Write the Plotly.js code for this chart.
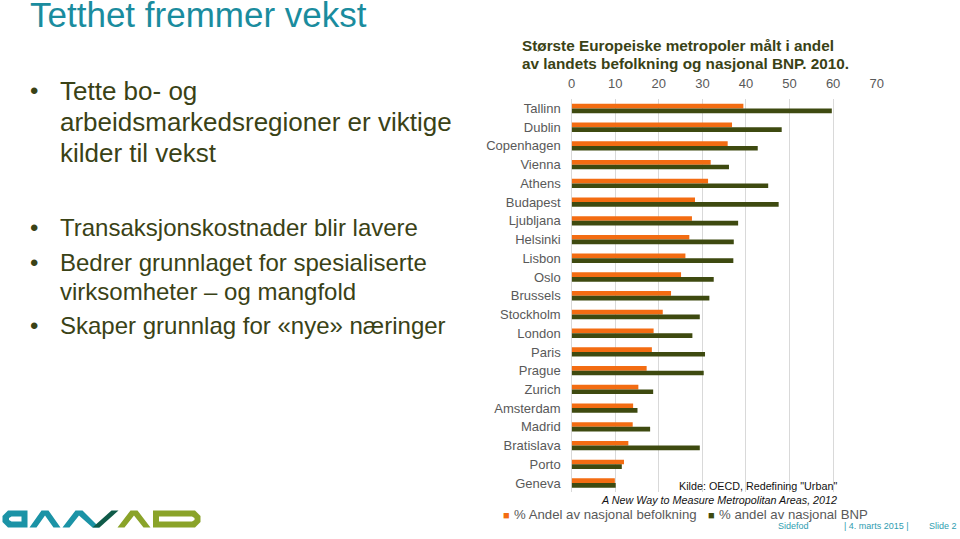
<!DOCTYPE html>
<html>
<head>
<meta charset="utf-8">
<script src="https://cdn.plot.ly/plotly-3.0.1.min.js"></script>
<style>
html,body{margin:0;padding:0;background:#fff;}
#chart{width:960px;height:539px;}
</style>
</head>
<body>
<div id="chart"></div>
<script>
// ---- data ----
const cities = ["Tallinn","Dublin","Copenhagen","Vienna","Athens","Budapest","Ljubljana","Helsinki","Lisbon","Oslo","Brussels","Stockholm","London","Paris","Prague","Zurich","Amsterdam","Madrid","Bratislava","Porto","Geneva"];
const befolkning = [39.4,36.8,35.8,31.9,31.3,28.3,27.6,27.0,26.1,25.1,22.8,20.9,18.8,18.4,17.2,15.3,14.1,14.0,13.0,12.0,9.9];
const bnp = [59.7,48.2,42.7,36.1,45.1,47.5,38.2,37.2,37.1,32.6,31.6,29.4,27.7,30.6,30.3,18.7,15.1,18.0,29.4,11.5,10.1];
const seriesNames = ["% Andel av nasjonal befolkning","% andel av nasjonal BNP"];
const xTicks = [0,10,20,30,40,50,60,70];
const chartTitle = ["Største Europeiske metropoler målt i andel","av landets befolkning og nasjonal BNP. 2010."];
const sourceLines = ["Kilde: OECD, Redefining \"Urban\"","A New Way to Measure Metropolitan Areas, 2012"];
const slideTitle = "Tetthet fremmer vekst";
const bulletLines = [
  {t:"Tette bo- og", b:true, blk:0},
  {t:"arbeidsmarkedsregioner er viktige", b:false, blk:0},
  {t:"kilder til vekst", b:false, blk:0},
  {t:"Transaksjonskostnader blir lavere", b:true, blk:1},
  {t:"Bedrer grunnlaget for spesialiserte", b:true, blk:1},
  {t:"virksomheter – og mangfold", b:false, blk:1},
  {t:"Skaper grunnlag for «nye» næringer", b:true, blk:1}
];
const footer = ["Sidefod","| 4. marts 2015 |","Slide 2"];

// ---- helpers (pixel -> paper, margins are 0) ----
const W = 960, H = 539;
const px = x => x / W;
const py = y => 1 - y / H;

const FONT = "Liberation Sans, Arial, sans-serif";
const ORANGE = "#f36c12";
const GREEN = "#3e4a10";
const OLIVE_TXT = "#3a4216";
const TEAL = "#1a8c9e";

const traces = [
  {type:"bar", orientation:"h", name:seriesNames[0], y:cities, x:befolkning,
   marker:{color:ORANGE}, hoverinfo:"x+y"},
  {type:"bar", orientation:"h", name:seriesNames[1], y:cities, x:bnp,
   marker:{color:GREEN}, hoverinfo:"x+y"}
];

const ann = [];
// chart title
const tY = [45, 63];
chartTitle.forEach((t,i)=>ann.push({text:"<b>"+t+"</b>", x:px(520), y:py(tY[i]), xref:"paper", yref:"paper",
  xanchor:"left", yanchor:"middle", showarrow:false, font:{family:FONT, size:15.3, color:OLIVE_TXT}}));
// source
const sY = [486, 500];
sourceLines.forEach((t,i)=>ann.push({text: i===1 ? "<i>"+t+"</i>" : t, x:px(838.5), y:py(sY[i]), xref:"paper", yref:"paper",
  xanchor:"right", yanchor:"middle", showarrow:false, font:{family:FONT, size:10.75, color:"#111"}}));
// legend (manual)
const legItems = [{sx:506.5, tx:511.5, c:ORANGE},{sx:711, tx:716.5, c:GREEN}];
legItems.forEach((l,i)=>{
  ann.push({text:"■", x:px(l.sx), y:py(514.5), xref:"paper", yref:"paper", xanchor:"center", yanchor:"middle",
    showarrow:false, font:{family:FONT, size:11, color:l.c}});
  ann.push({text:seriesNames[i], x:px(l.tx), y:py(514), xref:"paper", yref:"paper", xanchor:"left", yanchor:"middle",
    showarrow:false, font:{family:FONT, size:13.2, color:"#595959"}});
});
// footer
const fX = [793, 876, 943];
footer.forEach((t,i)=>ann.push({text:t, x:px(fX[i]), y:py(525.5), xref:"paper", yref:"paper", xanchor:"center", yanchor:"middle",
  showarrow:false, font:{family:FONT, size:9, color:"#2f9db0"}}));
// slide title
ann.push({text:slideTitle, x:px(28), y:py(14.5), xref:"paper", yref:"paper", xanchor:"left", yanchor:"middle",
  showarrow:false, font:{family:FONT, size:35, color:TEAL}});
// bullets
const bY = [91, 121.5, 153, 227.5, 262.5, 291.5, 325.5];
const bSize = [26, 24];
bulletLines.forEach((l,i)=>{
  ann.push({text:l.t, x:px(58), y:py(bY[i]), xref:"paper", yref:"paper", xanchor:"left", yanchor:"middle",
    showarrow:false, font:{family:FONT, size:bSize[l.blk], color:OLIVE_TXT}});
  if(l.b) ann.push({text:"•", x:px(34), y:py(bY[i]), xref:"paper", yref:"paper", xanchor:"center", yanchor:"middle",
    showarrow:false, font:{family:FONT, size:24, color:OLIVE_TXT}});
});

// logo shapes (decorative, filled polygons in pixel space)
function P(points){ return points.map((p,i)=>(i?"L":"M")+px(p[0]).toFixed(5)+","+py(p[1]).toFixed(5)).join(" ")+" Z"; }
const LT = "#1b93a6", LG = "#8aa329", LD = "#0f5a48";
function poly(pts, c){ return {type:"path", xref:"paper", yref:"paper", path:P(pts), fillcolor:c, line:{width:0}, layer:"above"}; }
const shapes = [
  // mirrored D
  poly([[8,510.5],[27.5,510.5],[27.5,527.5],[8,527.5],[2.5,522],[2.5,516]], LT),
  poly([[11.5,516.5],[21.5,516.5],[21.5,521.5],[11.5,521.5],[9,520],[9,518]], "#ffffff"),
  // Λ
  poly([[29.5,527.5],[41.5,510.5],[48.5,510.5],[60.5,527.5],[53.5,527.5],[45,515.5],[36.5,527.5]], LT),
  // Λ (first half of W)
  poly([[62.5,527.5],[75.5,510.5],[82.5,510.5],[99.5,527.5],[92.5,527.5],[79,515.5],[69.5,527.5]], LT),
  // / dark stroke
  poly([[92.5,527.5],[99.5,527.5],[118.5,510.5],[111.5,510.5]], LD),
  // olive Λ
  poly([[117.5,527.5],[130.5,510.5],[137.5,510.5],[150.5,527.5],[143.5,527.5],[134,515.5],[124.5,527.5]], LG),
  // D
  poly([[153,510.5],[195,510.5],[200.5,516],[200.5,522],[195,527.5],[153,527.5]], LG),
  poly([[159,516.5],[192,516.5],[194.5,518],[194.5,520],[192,521.5],[159,521.5]], "#ffffff")
];

const layout = {
  width: W, height: H,
  margin:{l:0, r:0, t:0, b:0, pad:0},
  paper_bgcolor:"#fff", plot_bgcolor:"#fff",
  showlegend:false,
  barmode:"group", bargap:0.5, bargroupgap:0,
  font:{family:FONT},
  xaxis:{domain:[571.7/W, 876.9/W], range:[0,70.05], side:"top", tickvals:xTicks, ticktext:xTicks.map(String),
    showgrid:true, gridcolor:"#d9d9d9", gridwidth:1, zeroline:true, zerolinecolor:"#d9d9d9", zerolinewidth:1,
    showline:false, ticks:"", ticklabelstandoff:8, tickfont:{family:FONT, size:13, color:"#595959"}, fixedrange:true},
  yaxis:{domain:[1-492.4/H, 1-99.1/H], type:"category", autorange:"reversed", showgrid:false, zeroline:false,
    showline:false, ticks:"", ticklabelstandoff:10, tickfont:{family:FONT, size:13, color:"#595959"}, fixedrange:true},
  annotations: ann,
  shapes: shapes
};

Plotly.newPlot("chart", traces, layout, {displayModeBar:false, staticPlot:true});
</script>
</body>
</html>
